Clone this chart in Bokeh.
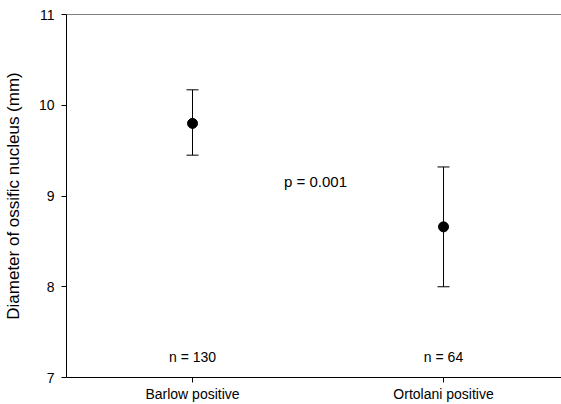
from bokeh.plotting import figure
from bokeh.models import Range1d, FixedTicker, Whisker, TeeHead, ColumnDataSource, Span, Label
from bokeh.core.properties import value
from bokeh.embed import file_html
from bokeh.resources import INLINE

# Data
categories = ["Barlow positive", "Ortolani positive"]
x_pos = [1, 2]
means = [9.80, 8.66]
upper = [10.17, 9.32]
lower = [9.45, 8.00]
n_labels = ["n = 130", "n = 64"]
p_label = "p = 0.001"
y_ticks = [7, 8, 9, 10, 11]

FONT = "Liberation Sans"

p = figure(width=561, height=404, output_backend="svg", toolbar_location=None,
           x_range=Range1d(0.498, 2.47), y_range=Range1d(7, 11),
           min_border_left=66, min_border_right=0, min_border_top=14, min_border_bottom=27)
p.outline_line_color = None
p.xgrid.grid_line_color = None
p.ygrid.grid_line_color = None
p.background_fill_color = "white"
p.border_fill_color = "white"

src = ColumnDataSource(dict(x=x_pos, m=means, up=upper, lo=lower, n=n_labels))

w = Whisker(source=src, base="x", upper="up", lower="lo", dimension="height",
            line_color="black", line_width=1,
            upper_head=TeeHead(size=12, line_color="black", line_width=1),
            lower_head=TeeHead(size=12, line_color="black", line_width=1))
p.add_layout(w)
p.scatter("x", "m", source=src, size=10, color="black")

p.text(x="x", y=7.23, text="n", source=src, text_align="center",
       text_baseline="alphabetic", text_font_size="14px", text_color="black",
       text_font=value(FONT))

p.add_layout(Label(x=1.49, y=9.16, text=p_label, text_align="center",
                   text_baseline="alphabetic", text_font_size="15px", text_color="black",
                   text_font=FONT))

# top line
p.add_layout(Span(location=y_ticks[-1], dimension="width", line_color="black", line_width=1))

# axes
xa = p.xaxis[0]
xa.ticker = FixedTicker(ticks=x_pos)
xa.major_label_overrides = {x: c for x, c in zip(x_pos, categories)}
xa.minor_tick_line_color = None
xa.major_tick_in = 0
xa.major_tick_out = 5
xa.major_label_standoff = 3
xa.major_label_text_font = FONT
xa.major_label_text_font_size = "14px"
xa.major_label_text_color = "black"
xa.axis_line_color = "black"

ya = p.yaxis[0]
ya.ticker = FixedTicker(ticks=y_ticks)
ya.minor_tick_line_color = None
ya.major_tick_in = 0
ya.major_tick_out = 5
ya.major_label_standoff = 7
ya.major_label_text_font = FONT
ya.major_label_text_font_size = "14px"
ya.major_label_text_color = "black"
ya.axis_label = "Diameter of ossific nucleus (mm)"
ya.axis_label_text_font = FONT
ya.axis_label_text_font_size = "17px"
ya.axis_label_text_font_style = "normal"
ya.axis_label_text_color = "black"
ya.axis_label_standoff = 13
ya.axis_line_color = "black"

open("out.html", "w").write(file_html(p, INLINE))
